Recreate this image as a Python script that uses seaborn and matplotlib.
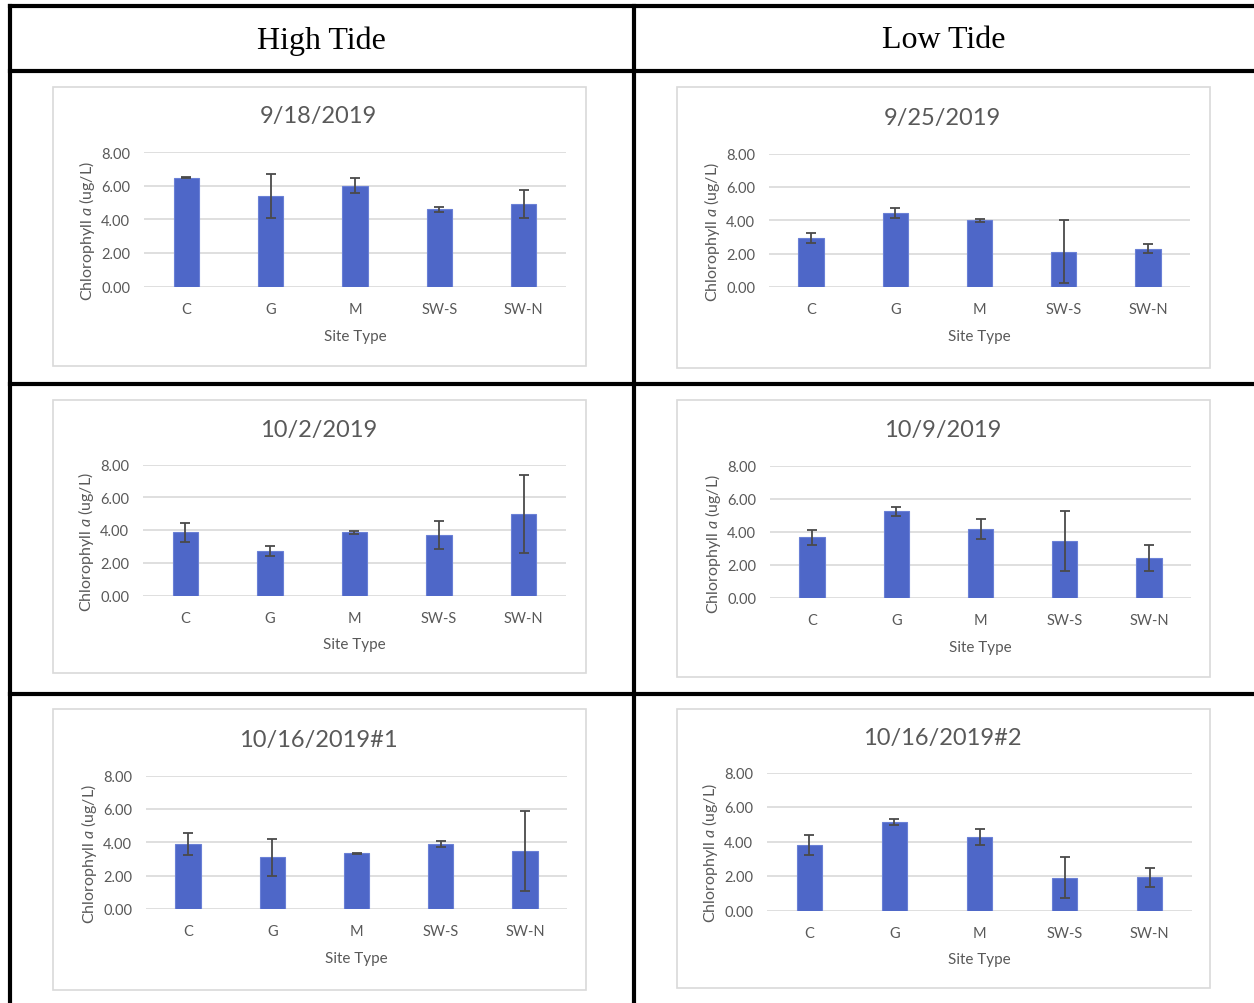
import matplotlib
matplotlib.use("Agg")
import matplotlib.pyplot as plt
from matplotlib.lines import Line2D
from matplotlib.patches import Rectangle
import seaborn as sns

# ---- data: chlorophyll a means and error (ug/L) per site type ----
sites = ["C", "G", "M", "SW-S", "SW-N"]

dates = ["9/18/2019", "9/25/2019", "10/2/2019", "10/9/2019",
         "10/16/2019#1", "10/16/2019#2"]

chl_0918 = [6.48, 5.37, 6.00, 4.58, 4.90]
err_0918 = [0.02, 1.31, 0.45, 0.12, 0.82]

chl_0925 = [2.95, 4.42, 4.00, 2.12, 2.30]
err_0925 = [0.30, 0.31, 0.08, 1.88, 0.27]

chl_1002 = [3.85, 2.73, 3.85, 3.69, 4.97]
err_1002 = [0.56, 0.29, 0.08, 0.87, 2.36]

chl_1009 = [3.68, 5.24, 4.17, 3.44, 2.39]
err_1009 = [0.45, 0.26, 0.61, 1.79, 0.78]

chl_1016a = [3.90, 3.10, 3.33, 3.90, 3.50]
err_1016a = [0.68, 1.10, 0.04, 0.20, 2.40]

chl_1016b = [3.81, 5.12, 4.27, 1.91, 1.93]
err_1016b = [0.58, 0.19, 0.46, 1.18, 0.54]

column_heads = ["High Tide", "Low Tide"]
y_ticks = [0, 2, 4, 6, 8]

# ---- styling ----
W, H = 1254, 1004
BAR = "#4E67C8"
TXT = "#595959"
GRID = "#D9D9D9"
ERR = "#4A4A4A"

sns.set_theme(style="white")
plt.rcParams["font.family"] = ["Lato", "DejaVu Sans"]
plt.rcParams["mathtext.fontset"] = "custom"
plt.rcParams["mathtext.it"] = "Lato:italic"
plt.rcParams["mathtext.rm"] = "Lato"

fig = plt.figure(figsize=(W / 100, H / 100), dpi=100)
fig.patch.set_facecolor("white")


def fx(x):
    return x / W


def fy(y):
    return 1 - y / H


def hline(y, x0, x1, lw=3.0):
    fig.add_artist(Line2D([fx(x0), fx(x1)], [fy(y), fy(y)], color="black",
                          lw=lw, solid_capstyle="projecting"))


def vline(x, y0, y1, lw=3.0):
    fig.add_artist(Line2D([fx(x), fx(x)], [fy(y0), fy(y1)], color="black",
                          lw=lw, solid_capstyle="projecting"))


# table frame
for y in (6.5, 72, 385, 695):
    hline(y, 9.5, W + 5)
vline(9.5, 6.5, H + 5)
vline(633.5, 6.5, H + 5)

fig.text(fx(321), fy(41), column_heads[0], ha="center", va="center",
         fontsize=23, family="Liberation Serif", color="black")
fig.text(fx(944), fy(41), column_heads[1], ha="center", va="center",
         fontsize=23, family="Liberation Serif", color="black")

# panel layout: chart box (x0, y0, x1, y1), plot area (x0, y0, x1, y1), title y
panels = [
    ((53, 88, 586, 367), (144, 153, 566, 287.5), 116, chl_0918, err_0918),
    ((677, 88, 1210, 369), (769, 154.5, 1190, 288), 118, chl_0925, err_0925),
    ((53, 401, 586, 674), (143, 465.5, 566, 596.5), 430, chl_1002, err_1002),
    ((677, 401, 1210, 678), (770, 466.5, 1191, 599), 431, chl_1009, err_1009),
    ((53, 710, 586, 991), (146, 776.5, 567, 910), 740, chl_1016a, err_1016a),
    ((677, 710, 1210, 989), (767, 773.5, 1192, 911.5), 739, chl_1016b, err_1016b),
]

for (box, area, ty, vals, errs), title in zip(panels, dates):
    bx0, by0, bx1, by1 = box
    fig.add_artist(Rectangle((fx(bx0), fy(by1)), fx(bx1 - bx0), (by1 - by0) / H,
                             transform=fig.transFigure, facecolor="white",
                             edgecolor=GRID, lw=1.2, zorder=0))
    ax0, ay0, ax1, ay1 = area
    ax = fig.add_axes([fx(ax0), fy(ay1), fx(ax1 - ax0), (ay1 - ay0) / H])
    ax.set_facecolor("none")

    sns.barplot(x=sites, y=vals, ax=ax, color=BAR, width=0.3,
                saturation=1, errorbar=None, edgecolor="#6A80D6", linewidth=0.8,
                zorder=3)
    ax.errorbar(range(len(sites)), vals, yerr=errs, fmt="none", ecolor=ERR,
                elinewidth=1.3, capsize=3.8, capthick=1.3, zorder=4)

    ax.set_ylim(0, 8)
    ax.set_xlim(-0.5, len(sites) - 0.5)
    ax.set_yticks(y_ticks)
    ax.set_yticklabels([f"{v:.2f}" for v in y_ticks])
    ax.yaxis.grid(True, color=GRID, lw=1.2, zorder=0)
    ax.set_axisbelow(True)
    for s in ax.spines.values():
        s.set_visible(False)
    ax.tick_params(axis="y", length=0, pad=10, labelsize=10.5, labelcolor=TXT)
    ax.tick_params(axis="x", length=0, pad=11, labelsize=10.5, labelcolor=TXT)

    h_px = ay1 - ay0
    ax.set_xlabel("Site Type", fontsize=11, color=TXT)
    ax.xaxis.set_label_coords(0.5, -49 / h_px)
    ax.xaxis.label.set_verticalalignment("center")

    ax.set_ylabel("Chlorophyll $\\mathit{a}$ (ug/L)", fontsize=11.5, color=TXT)
    ax.yaxis.set_label_coords(-57 / (ax1 - ax0), 0.5 - 11 / h_px)
    ax.yaxis.label.set_verticalalignment("center")

    fig.text(fx((bx0 + bx1) / 2 - 1), fy(ty), title, ha="center", va="center",
             fontsize=17, color=TXT)

fig.savefig("out.png", dpi=100, facecolor="white")
